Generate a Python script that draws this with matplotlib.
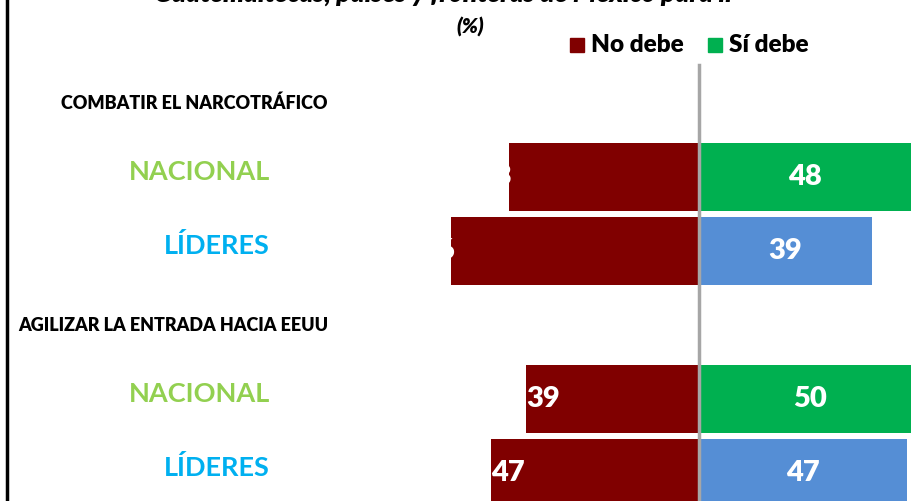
import numpy as np
import matplotlib.pyplot as plt
from matplotlib.patches import Rectangle

plt.rcParams['font.family'] = ['Lato', 'DejaVu Sans']

# data
groups = ["COMBATIR EL NARCOTRÁFICO", "AGILIZAR LA ENTRADA HACIA EEUU"]
row_names = ["NACIONAL", "LÍDERES", "NACIONAL", "LÍDERES"]
no_debe = [43, 56, 39, 47]
si_debe = [48, 39, 50, 47]
legend_labels = ["No debe", "Sí debe"]

c_no = "#800000"
c_nac = "#00B050"
c_lid = "#558ED5"
name_colors = {"NACIONAL": "#92D050", "LÍDERES": "#00B0F0"}
bar_colors = {"NACIONAL": c_nac, "LÍDERES": c_lid}

W, H = 912, 501
fig = plt.figure(figsize=(W / 100, H / 100), dpi=100)
ax = fig.add_axes([0, 0, 1, 1])

px = 4.43          # pixels per percent
x0 = 699           # pixel of the zero line
row_px = 74
top_px = 103
ax.set_xlim(-x0 / px, (W - x0) / px)
ax.set_ylim((H - top_px) / row_px, -top_px / row_px)
ax.axis('off')

# slots: header, bar, bar, header, bar, bar
bar_slots = [1, 2, 4, 5]
head_slots = [0, 3]

ax.barh(bar_slots, [-v for v in no_debe], height=0.92, color=c_no, zorder=2)
ax.barh(bar_slots, si_debe, height=0.92,
        color=[bar_colors[n] for n in row_names], zorder=2)

for i, (y, n) in enumerate(zip(bar_slots, row_names)):
    ax.text(si_debe[i] / 2, y, str(si_debe[i]), color='white', fontsize=21,
            fontweight='heavy', ha='center', va='center', zorder=3)
    if i < 2:
        ax.text(-no_debe[i] + 0.8, y, str(no_debe[i]), color='white', fontsize=21,
                fontweight='heavy', ha='right', va='center', zorder=3)
    else:
        ax.text(-no_debe[i], y, str(no_debe[i]), color='white', fontsize=21,
                fontweight='heavy', ha='left', va='center', zorder=3)
    ax.text((270 - x0) / px, y - 0.07, n, color=name_colors[n], fontsize=19.5,
            fontweight='bold', ha='right', va='center')

for y, g in zip(head_slots, groups):
    ax.text((328 - x0) / px, y, g, color='black', fontsize=13,
            fontweight='heavy', ha='right', va='center')

# zero line
ax.plot([0, 0], [(H - top_px) / row_px, (65 - top_px) / row_px],
        color='#A6A6A6', lw=2.5, zorder=4)

# title (cut off at the top of the picture) and legend
fig.text(445 / W, 1 + 6 / H, "Guatemaltecas, países y fronteras de México para ir",
         fontsize=19, fontweight='heavy', style='italic', ha='center', va='center')
fig.text(470 / W, 1 - 27 / H, "(%)", fontsize=15, fontweight='heavy',
         style='italic', ha='center', va='center')

for lx, col, lab in [(570, c_no, legend_labels[0]), (708, c_nac, legend_labels[1])]:
    fig.patches.append(Rectangle((lx / W, 1 - 52 / H), 14 / W, 14 / H,
                                 transform=fig.transFigure, color=col))
    fig.text((lx + 21) / W, 1 - 45 / H, lab, fontsize=17.5, fontweight='heavy',
             ha='left', va='center')

# left border line
fig.add_artist(plt.Line2D([7 / W, 7 / W], [0, 1], color='black', lw=2.5,
                          transform=fig.transFigure))

fig.savefig("out.png", dpi=100, facecolor='white')
